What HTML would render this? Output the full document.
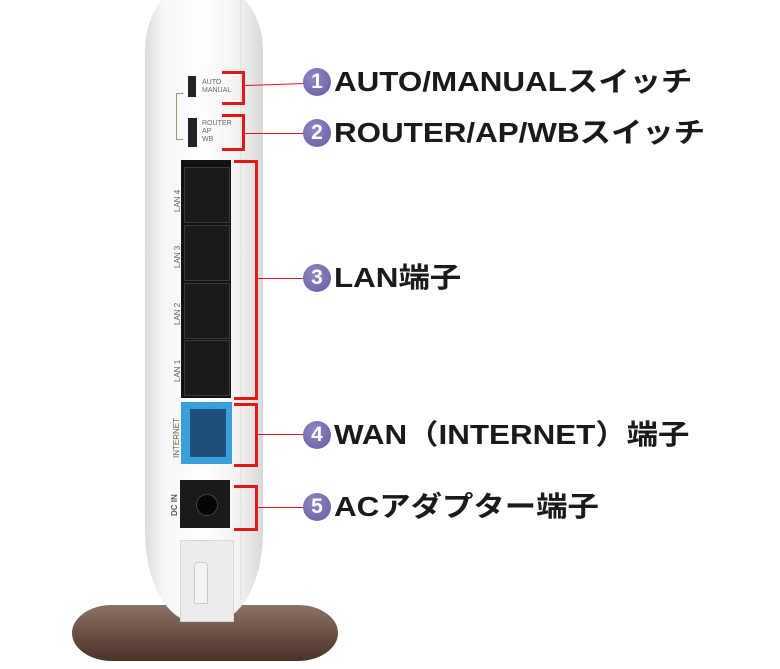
<!DOCTYPE html>
<html><head><meta charset="utf-8"><style>
body{margin:0;width:780px;height:669px;background:#fff;position:relative;overflow:hidden;font-family:"Liberation Sans","Noto Sans CJK JP",sans-serif}
.a{position:absolute}
.br{position:absolute;border:3px solid #e01818;border-left:none}
.ln{position:absolute;height:1px;background:#e01818}
.c{position:absolute;width:28px;height:28px;border-radius:50%;background:radial-gradient(circle at 40% 35%,#8f88c4,#635ba0);color:#fff;font-size:21px;font-weight:bold;text-align:center;line-height:28px}
.t{position:absolute;font-size:28px;font-weight:bold;color:#1a1a1a;white-space:nowrap;transform:scaleX(1.12);transform-origin:left center;line-height:32px}
.port{position:absolute;left:184px;width:44px;height:54px;background:#1a1a1a;border:1px solid #3a3a3a}
.lab{position:absolute;font-size:8px;color:#6a5a48;transform:rotate(-90deg);transform-origin:left top;white-space:nowrap}
.sl{position:absolute;font-size:7px;color:#666;line-height:8px}
</style></head><body>
<div class="a" style="left:72px;top:605px;width:266px;height:56px;border-radius:40px/28px;background:linear-gradient(#8a7265,#5e4539 70%,#4a342a)"></div>
<div class="a" style="left:145px;top:-20px;width:118px;height:642px;border-radius:55px 60px 50px 50px/70px 70px 90px 90px;background:linear-gradient(90deg,#dcdcdc,#f6f6f6 15%,#fff 50%,#f2f2f2 80%,#d8d8d8);"></div>
<div class="a" style="left:240px;top:0;width:2px;height:600px;background:#e6e6e6"></div>
<div class="a" style="left:180px;top:540px;width:52px;height:80px;background:#ececec;border:1px solid #d8d8d8"></div>
<div class="a" style="left:194px;top:562px;width:12px;height:40px;border:1px solid #ccc;border-radius:4px 4px 0 0;background:#f4f4f4"></div>
<div class="a" style="left:188px;top:76px;width:8px;height:21px;background:#222"></div>
<div class="sl" style="left:202px;top:79px">AUTO<br>MANUAL</div>
<div class="a" style="left:188px;top:118px;width:9px;height:29px;background:#222"></div>
<div class="sl" style="left:202px;top:120px">ROUTER<br>AP<br>WB</div>
<div class="a" style="left:176px;top:93px;width:6px;height:45px;border:1px solid #b09070;border-right:none"></div>
<div class="a" style="left:181px;top:160px;width:50px;height:238px;background:#111"></div>
<div class="port" style="top:167px"></div>
<div class="port" style="top:225px"></div>
<div class="port" style="top:283px"></div>
<div class="port" style="top:340px"></div>
<div class="lab" style="left:173px;top:212px">LAN 4</div>
<div class="lab" style="left:173px;top:268px">LAN 3</div>
<div class="lab" style="left:173px;top:325px">LAN 2</div>
<div class="lab" style="left:173px;top:382px">LAN 1</div>
<div class="a" style="left:181px;top:402px;width:51px;height:62px;background:#3aa0dc"></div>
<div class="a" style="left:190px;top:409px;width:36px;height:48px;background:#1d4f7a"></div>
<div class="lab" style="left:172px;top:458px">INTERNET</div>
<div class="a" style="left:180px;top:480px;width:50px;height:48px;background:#1a1a1a"></div>
<div class="a" style="left:196px;top:494px;width:20px;height:20px;border-radius:50%;background:#050505;border:1px solid #444"></div>
<div class="lab" style="left:170px;top:516px;font-weight:bold">DC IN</div>
<div class="br" style="left:222px;top:71px;width:20px;height:28px"></div>
<div class="br" style="left:222px;top:114px;width:20px;height:31px"></div>
<div class="br" style="left:234px;top:160px;width:21px;height:234px"></div>
<div class="br" style="left:234px;top:403px;width:21px;height:58px"></div>
<div class="br" style="left:234px;top:485px;width:21px;height:40px"></div>
<div class="ln" style="left:245px;top:84px;width:60px;transform:rotate(-2deg)"></div>
<div class="ln" style="left:245px;top:133px;width:60px"></div>
<div class="ln" style="left:258px;top:278px;width:47px"></div>
<div class="ln" style="left:258px;top:434px;width:47px"></div>
<div class="ln" style="left:258px;top:507px;width:47px"></div>
<div class="c" style="left:303px;top:68px">1</div><div class="t" style="left:334px;top:66px">AUTO/MANUALスイッチ</div>
<div class="c" style="left:303px;top:119px">2</div><div class="t" style="left:334px;top:117px">ROUTER/AP/WBスイッチ</div>
<div class="c" style="left:303px;top:264px">3</div><div class="t" style="left:334px;top:262px">LAN端子</div>
<div class="c" style="left:303px;top:421px">4</div><div class="t" style="left:334px;top:419px">WAN（INTERNET）端子</div>
<div class="c" style="left:303px;top:493px">5</div><div class="t" style="left:334px;top:491px">ACアダプター端子</div>
</body></html>
